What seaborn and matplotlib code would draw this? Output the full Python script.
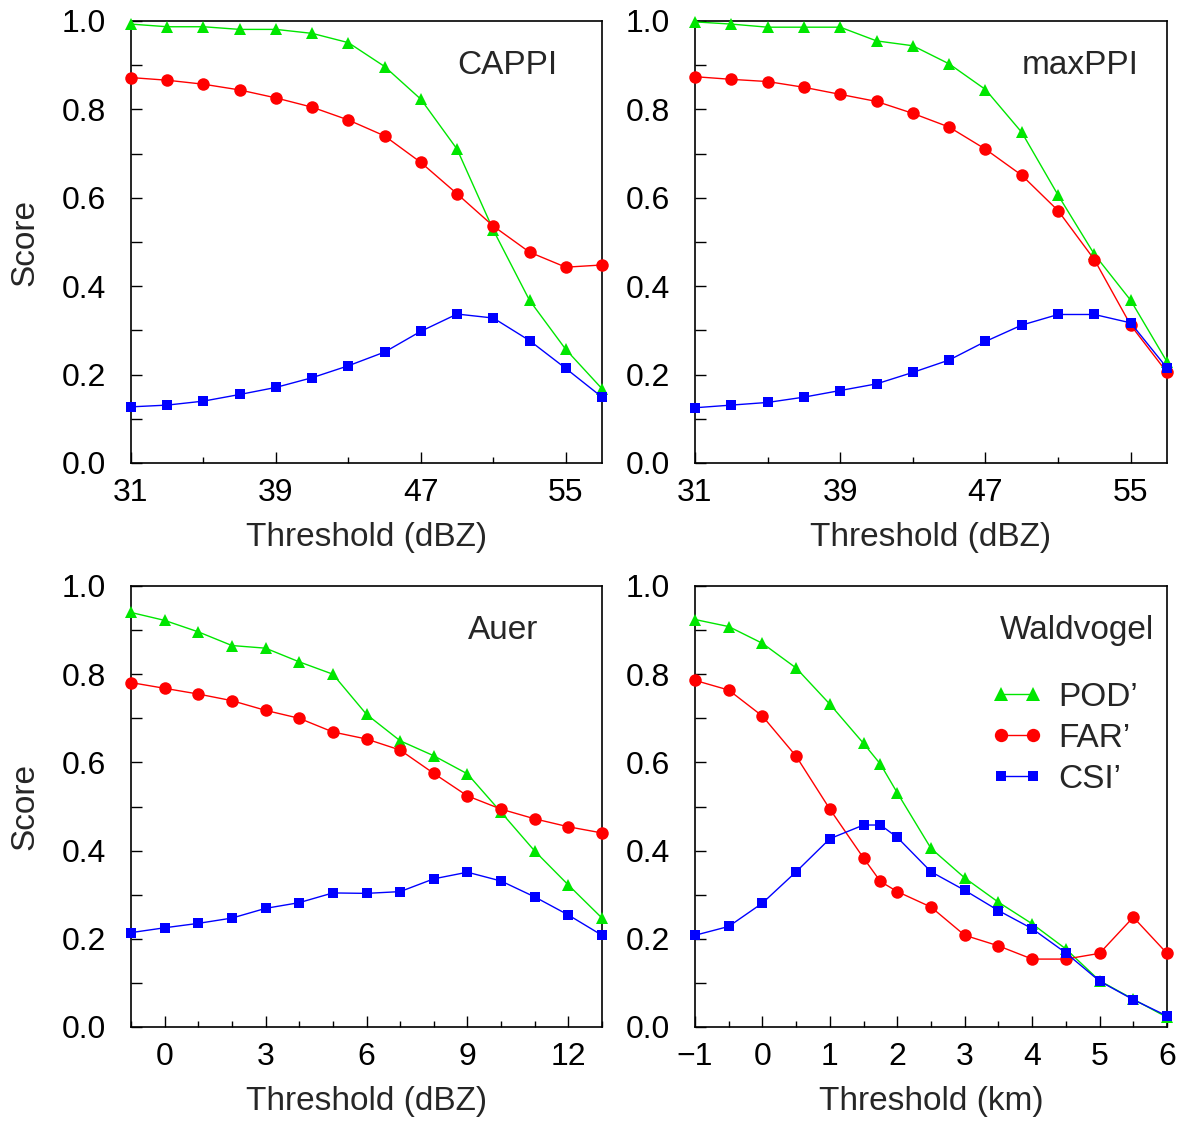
import numpy as np
import pandas as pd
import matplotlib
matplotlib.use("Agg")
import matplotlib.pyplot as plt
from matplotlib.lines import Line2D
from matplotlib.ticker import FixedLocator, MultipleLocator, FormatStrFormatter
import seaborn as sns

# ---------------- data ----------------
metrics = ["POD’", "FAR’", "CSI’"]

cappi_x = [31, 33, 35, 37, 39, 41, 43, 45, 47, 49, 51, 53, 55, 57]
cappi_pod = [0.993, 0.987, 0.987, 0.981, 0.981, 0.972, 0.951, 0.897, 0.823, 0.710, 0.527, 0.368, 0.257, 0.168]
cappi_far = [0.872, 0.866, 0.857, 0.844, 0.826, 0.805, 0.776, 0.740, 0.680, 0.609, 0.536, 0.477, 0.443, 0.448]
cappi_csi = [0.127, 0.131, 0.140, 0.155, 0.171, 0.193, 0.220, 0.251, 0.298, 0.337, 0.328, 0.277, 0.214, 0.149]

maxppi_x = [31, 33, 35, 37, 39, 41, 43, 45, 47, 49, 51, 53, 55, 57]
maxppi_pod = [0.998, 0.993, 0.986, 0.986, 0.986, 0.955, 0.944, 0.903, 0.845, 0.748, 0.606, 0.472, 0.368, 0.229]
maxppi_far = [0.874, 0.868, 0.863, 0.850, 0.834, 0.818, 0.791, 0.760, 0.710, 0.651, 0.571, 0.460, 0.312, 0.205]
maxppi_csi = [0.125, 0.131, 0.137, 0.149, 0.164, 0.179, 0.205, 0.233, 0.275, 0.312, 0.336, 0.336, 0.317, 0.215]

auer_x = [-1, 0, 1, 2, 3, 4, 5, 6, 7, 8, 9, 10, 11, 12, 13]
auer_pod = [0.940, 0.922, 0.896, 0.865, 0.859, 0.828, 0.800, 0.709, 0.649, 0.615, 0.574, 0.487, 0.399, 0.322, 0.247]
auer_far = [0.781, 0.768, 0.755, 0.740, 0.718, 0.700, 0.669, 0.653, 0.628, 0.575, 0.524, 0.494, 0.472, 0.454, 0.440]
auer_csi = [0.214, 0.225, 0.235, 0.247, 0.269, 0.282, 0.304, 0.303, 0.307, 0.336, 0.351, 0.331, 0.295, 0.254, 0.208]

wald_x = [-1, -0.5, 0, 0.5, 1, 1.5, 1.75, 2, 2.5, 3, 3.5, 4, 4.5, 5, 5.5, 6]
wald_pod = [0.924, 0.908, 0.870, 0.814, 0.732, 0.643, 0.596, 0.531, 0.405, 0.338, 0.283, 0.234, 0.177, 0.105, 0.063, 0.022]
wald_far = [0.786, 0.764, 0.705, 0.614, 0.494, 0.383, 0.330, 0.307, 0.272, 0.208, 0.184, 0.154, 0.154, 0.167, 0.249, 0.167]
wald_csi = [0.208, 0.228, 0.281, 0.352, 0.427, 0.458, 0.458, 0.430, 0.352, 0.310, 0.264, 0.223, 0.168, 0.104, 0.062, 0.025]

panel_names = ["CAPPI", "maxPPI", "Auer", "Waldvogel"]
x_labels = ["Threshold (dBZ)", "Threshold (dBZ)", "Threshold (dBZ)", "Threshold (km)"]

# ---------------- style ----------------
sns.set_theme(style="ticks")
plt.rcParams["font.family"] = ["Liberation Sans", "DejaVu Sans"]
plt.rcParams["axes.unicode_minus"] = True

colors = {"POD’": "#00e600", "FAR’": "#ff0000", "CSI’": "#0000ff"}
markers = {"POD’": "^", "FAR’": "o", "CSI’": "s"}
msizes = {"POD’": 8.8, "FAR’": 9.0, "CSI’": 7.2}
FS = 23
LFS = 24

fig = plt.figure(figsize=(11.86, 11.24), dpi=100)
W, H = 1186.0, 1124.0
boxes = [(131, 21, 602, 463), (695, 21, 1167, 463),
         (131, 586, 602, 1027), (695, 586, 1167, 1027)]
axes = []
for (l, t, r, b) in boxes:
    axes.append(fig.add_axes([l / W, 1 - b / H, (r - l) / W, (b - t) / H]))

panels = [
    (cappi_x, cappi_pod, cappi_far, cappi_csi),
    (maxppi_x, maxppi_pod, maxppi_far, maxppi_csi),
    (auer_x, auer_pod, auer_far, auer_csi),
    (wald_x, wald_pod, wald_far, wald_csi),
]
xlims = [(31, 57), (31, 57), (-1, 13), (-1, 6)]
xmajor = [[31, 39, 47, 55], [31, 39, 47, 55], [0, 3, 6, 9, 12], [-1, 0, 1, 2, 3, 4, 5, 6]]
xminor = [[35, 43, 51], [35, 43, 51], list(range(-1, 14)), [v / 2 for v in range(-2, 13)]]
title_x = [0.798, 0.816, 0.79, 0.81]

for i, ax in enumerate(axes):
    xs, pod, far, csi = panels[i]
    for m, vals in zip(metrics, [pod, far, csi]):
        df = pd.DataFrame({"x": xs, "y": vals})
        sns.lineplot(data=df, x="x", y="y", ax=ax, color=colors[m], marker=markers[m],
                     markersize=msizes[m], markeredgewidth=0, linewidth=1.0,
                     clip_on=False, legend=False, zorder=3)
    ax.set_xlim(*xlims[i])
    ax.set_ylim(0, 1)
    ax.xaxis.set_major_locator(FixedLocator(xmajor[i]))
    ax.xaxis.set_minor_locator(FixedLocator(xminor[i]))
    ax.yaxis.set_major_locator(MultipleLocator(0.2))
    ax.yaxis.set_minor_locator(MultipleLocator(0.1))
    ax.yaxis.set_major_formatter(FormatStrFormatter("%.1f"))
    ax.tick_params(axis="both", which="both", direction="in", labelsize=FS,
                   colors="black", width=1.0)
    ax.tick_params(axis="x", which="major", length=8, pad=11)
    ax.tick_params(axis="x", which="minor", length=4.5)
    ax.tick_params(axis="y", which="both", length=8, pad=18)
    for s in ax.spines.values():
        s.set_visible(True)
        s.set_linewidth(1.2)
        s.set_color("black")
    ax.set_xlabel(x_labels[i], fontsize=LFS)
    ax.xaxis.set_label_coords(0.5, -0.133)
    if i % 2 == 0:
        ax.set_ylabel("Score", fontsize=LFS)
        ax.yaxis.set_label_coords(-0.193, 0.5)
    else:
        ax.set_ylabel("")
    ax.text(title_x[i], 0.90, panel_names[i], transform=ax.transAxes,
            ha="center", va="center", fontsize=LFS)
    ax.set_facecolor("white")

handles = [Line2D([0], [0], color=colors[m], marker=markers[m], markersize=msizes[m] + 0.6,
                  markeredgewidth=0, linewidth=1.0) for m in metrics]
leg = axes[3].legend(handles, metrics, loc="upper left", bbox_to_anchor=(0.628, 0.782),
                     frameon=False, fontsize=LFS, numpoints=2, handlelength=1.55,
                     handletextpad=0.45, labelspacing=0.3, borderpad=0, borderaxespad=0)

fig.savefig("out.png", dpi=100, facecolor="white")
